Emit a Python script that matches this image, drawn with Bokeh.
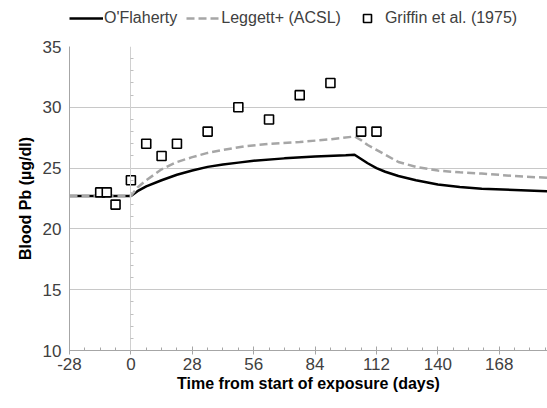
from bokeh.plotting import figure
from bokeh.layouts import column
from bokeh.models import Legend, LegendItem, FixedTicker, LinearAxis, Range1d
from bokeh.embed import file_html
from bokeh.resources import INLINE

# ---- data ----
ofl_days = [-28, 0, 3, 7, 14, 21, 28, 35, 42, 49, 56, 70, 84, 98, 102,
            105, 108, 112, 116, 122, 130, 140, 150, 160, 175, 190]
ofl_vals = [22.7, 22.7, 23.1, 23.5, 24.0, 24.45, 24.8, 25.1, 25.3, 25.45, 25.6, 25.8, 25.95, 26.05, 26.1,
            25.75, 25.4, 25.0, 24.7, 24.35, 24.0, 23.65, 23.45, 23.3, 23.2, 23.1]

leg_days = [-28, 0, 3, 7, 14, 21, 28, 35, 42, 52, 63, 77, 90, 102,
            105, 108, 112, 116, 122, 130, 140, 150, 160, 175, 190]
leg_vals = [22.7, 22.7, 23.4, 24.0, 24.9, 25.5, 25.9, 26.25, 26.5, 26.8, 27.0, 27.15, 27.35, 27.6,
            27.3, 26.9, 26.5, 26.1, 25.5, 25.1, 24.8, 24.65, 24.55, 24.35, 24.2]

grif_days = [-14, -11, -7, 0, 7, 14, 21, 35, 49, 63, 77, 91, 105, 112]
grif_vals = [23, 23, 22, 24, 27, 26, 27, 28, 30, 29, 31, 32, 28, 28]

series_names = ["O'Flaherty", "Leggett+ (ACSL)", "Griffin et al. (1975)"]

x_ticks = [-28, 0, 28, 56, 84, 112, 140, 168]
x_labels = {t: str(t) for t in x_ticks}
x_minor = [d for d in range(-21, 190, 7) if d % 28 != 0]
y_ticks = [10, 15, 20, 25, 30, 35]
y_grid = [15, 20, 25, 30]
y_minor = [v for v in range(11, 35) if v % 5 != 0]

FONT = "Liberation Sans"
TXT = "#404040"
W = 547

OFL_STYLE = dict(line_color="black", line_width=2.5)
LEG_STYLE = dict(line_color="#a6a6a6", line_width=2.5, line_dash="8 4")
GRIF_STYLE = dict(marker="square", size=9, line_color="black", line_width=1.6, fill_color="white")

p = figure(width=W, height=362, output_backend="svg", toolbar_location=None,
           x_range=Range1d(-28, 190), y_range=Range1d(10, 35),
           min_border_left=69, min_border_right=0, min_border_top=8, min_border_bottom=50)
p.outline_line_color = None
p.background_fill_color = "white"
p.border_fill_color = "white"

# axes
p.xaxis.ticker = FixedTicker(ticks=x_ticks, minor_ticks=x_minor)
p.xaxis.major_label_overrides = x_labels
p.xaxis.axis_line_color = "#a6a6a6"
p.xaxis.major_tick_line_color = "#a6a6a6"
p.xaxis.minor_tick_line_color = "#a6a6a6"
p.xaxis.major_tick_in = 4
p.xaxis.major_tick_out = 4
p.xaxis.minor_tick_in = 3
p.xaxis.minor_tick_out = 0
p.xaxis.major_label_text_font = FONT
p.xaxis.major_label_text_font_size = "17px"
p.xaxis.major_label_text_color = TXT
p.xaxis.major_label_standoff = 3
p.xaxis.axis_label = "Time from start of exposure (days)"
p.xaxis.axis_label_text_font = FONT
p.xaxis.axis_label_text_font_size = "16px"
p.xaxis.axis_label_text_font_style = "bold"
p.xaxis.axis_label_text_color = "#000000"
p.xaxis.axis_label_standoff = 2

p.yaxis.ticker = FixedTicker(ticks=y_ticks)
p.yaxis.axis_line_color = "#a6a6a6"
p.yaxis.major_tick_in = 0
p.yaxis.major_tick_out = 0
p.yaxis.minor_tick_line_color = None
p.yaxis.major_label_text_font = FONT
p.yaxis.major_label_text_font_size = "17px"
p.yaxis.major_label_text_color = TXT
p.yaxis.major_label_standoff = 8
p.yaxis.axis_label = "Blood Pb (µg/dl)"
p.yaxis.axis_label_text_font = FONT
p.yaxis.axis_label_text_font_size = "16px"
p.yaxis.axis_label_text_font_style = "bold"
p.yaxis.axis_label_text_color = "#000000"
p.yaxis.axis_label_standoff = 6

p.xgrid.visible = False
p.ygrid.ticker = FixedTicker(ticks=y_grid)
p.ygrid.grid_line_color = "#c8c8c8"

# vertical axis at day 0
ax0 = LinearAxis(fixed_location=0, ticker=FixedTicker(ticks=y_ticks, minor_ticks=y_minor),
                 major_label_text_font_size="0px", axis_line_color="#d0d0d0",
                 major_tick_in=0, major_tick_out=0, minor_tick_in=3, minor_tick_out=0,
                 minor_tick_line_color="#c0c0c0", major_label_standoff=0)
p.add_layout(ax0, "left")

# data
p.line(ofl_days, ofl_vals, **OFL_STYLE)
p.line(leg_days, leg_vals, **LEG_STYLE)
p.scatter(grif_days, grif_vals, **GRIF_STYLE)

# legend strip above the chart (proxy glyphs kept out of its visible range)
lf = figure(width=W, height=38, output_backend="svg", toolbar_location=None,
            x_range=Range1d(1000, 1001), y_range=Range1d(1000, 1001),
            x_axis_location=None, y_axis_location=None,
            min_border_left=0, min_border_right=0, min_border_top=0, min_border_bottom=0)
lf.grid.visible = False
lf.outline_line_color = None
lf.background_fill_color = "white"
lf.border_fill_color = "white"
l1 = lf.line(ofl_days, ofl_vals, **OFL_STYLE)
l2 = lf.line(leg_days, leg_vals, **LEG_STYLE)
l3 = lf.scatter(grif_days, grif_vals, **GRIF_STYLE)

legend = Legend(items=[LegendItem(label=series_names[0], renderers=[l1]),
                       LegendItem(label=series_names[1], renderers=[l2]),
                       LegendItem(label=series_names[2], renderers=[l3])],
                orientation="horizontal", location=(0, 10))
legend.label_text_font = FONT
legend.label_text_font_size = "16px"
legend.label_text_color = TXT
legend.glyph_width = 34
legend.spacing = 9
legend.padding = 0
legend.margin = 0
legend.border_line_color = None
legend.background_fill_alpha = 0
legend.label_standoff = 1
lf.add_layout(legend, "center")

layout = column(lf, p, spacing=0)

open("out.html", "w").write(file_html(layout, INLINE))
